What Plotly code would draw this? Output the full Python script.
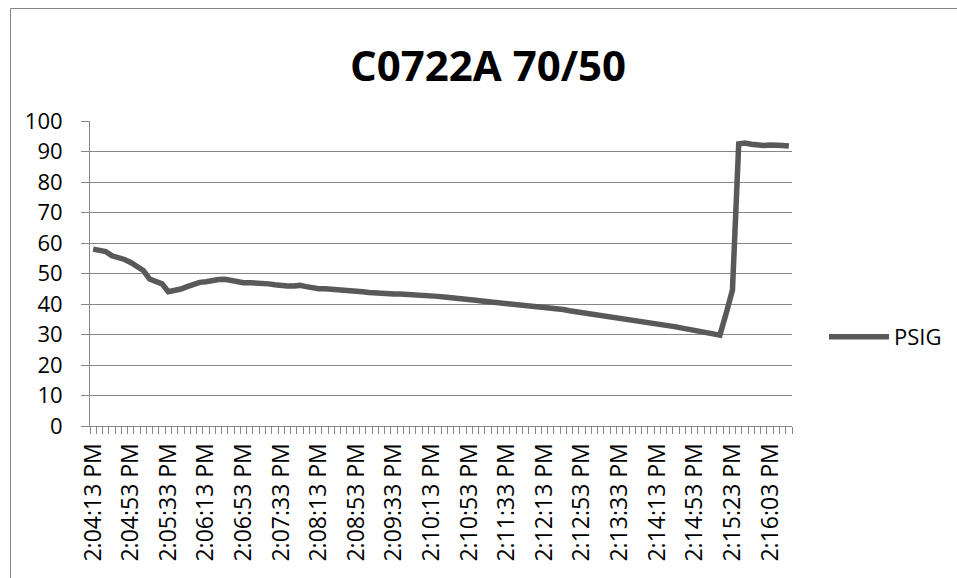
import plotly.graph_objects as go

title_text = "C0722A 70/50"
series_name = "PSIG"

# sample index (category position) and PSIG readings
psig = [
    58.0, 57.8, 57.2, 55.8, 55.3, 54.6, 53.6, 52.5, 51.0, 48.2,
    47.5, 46.6, 44.0, 44.4, 44.9, 45.7, 46.6, 47.1, 47.3, 47.8,
    48.0, 48.1, 47.7, 47.3, 47.0, 47.0, 47.0, 47.0, 46.6, 46.3,
    46.0, 45.9, 45.9, 46.1, 45.7, 45.3, 45.0, 45.0, 44.9, 44.8,
    44.6, 44.4, 44.2, 44.0, 43.8, 43.6, 43.5, 43.4, 43.3, 43.3,
    43.2, 43.2, 43.2, 43.0, 42.7, 42.5, 42.3, 42.0, 41.7, 41.6,
    41.5, 41.2, 41.0, 40.8, 40.6, 40.4, 40.2, 40.0, 39.9, 39.7,
    39.5, 39.2, 38.9, 38.8, 38.6, 38.2, 37.8, 37.5, 37.3, 37.0,
    36.7, 36.5, 36.2, 35.8, 35.4, 35.0, 34.8, 34.5, 34.2, 34.0,
    33.6, 33.2, 32.9, 32.5, 32.1, 31.7, 31.3, 31.0, 30.7, 30.4,
    29.8, 37.0, 44.6, 92.5, 92.8, 92.4, 92.1, 92.0, 92.1, 92.2,
    92.0, 91.8,
]
sample_index = list(range(len(psig)))

tick_labels = [
    "2:04:13 PM", "2:04:53 PM", "2:05:33 PM", "2:06:13 PM", "2:06:53 PM",
    "2:07:33 PM", "2:08:13 PM", "2:08:53 PM", "2:09:33 PM", "2:10:13 PM",
    "2:10:53 PM", "2:11:33 PM", "2:12:13 PM", "2:12:53 PM", "2:13:33 PM",
    "2:14:13 PM", "2:14:53 PM", "2:15:23 PM", "2:16:03 PM",
]
label_every = 6
tick_positions = [i * label_every for i in range(len(tick_labels))]

axis_gray = "#868686"
font_family = "Open Sans, Noto Sans, DejaVu Sans, sans-serif"

fig = go.Figure()
fig.add_trace(go.Scatter(
    x=sample_index, y=psig, mode="lines", name=series_name,
    line=dict(color="#595959", width=5.5),
))

L, R, T, B = 90, 165, 121, 152
W, H = 957, 578
pw, ph = W - L - R, H - T - B

def px_to_paper_x(px):
    return (px - L) / pw

def px_to_paper_y(py):
    return (H - B - py) / ph

fig.update_layout(
    width=W, height=H,
    margin=dict(l=L, r=R, t=T, b=B, autoexpand=False),
    paper_bgcolor="white", plot_bgcolor="white",
    font=dict(family=font_family, size=22, color="#000000"),
    title=dict(
        text="<b>" + title_text + "</b>",
        x=488 / W, xanchor="center", xref="container",
        y=1 - 66 / H, yanchor="middle", yref="container",
        font=dict(family=font_family, size=42, color="#000000"),
    ),
    showlegend=True,
    legend=dict(
        x=px_to_paper_x(824), xanchor="left",
        y=px_to_paper_y(337), yanchor="middle",
        font=dict(family=font_family, size=22, color="#000000"),
        itemwidth=60, bgcolor="rgba(0,0,0,0)",
    ),
    xaxis=dict(
        range=[-0.5, len(psig) - 0.5],
        tickmode="array", tickvals=tick_positions, ticktext=tick_labels,
        tickangle=-90, ticks="outside", ticklen=7,
        tickcolor="rgba(0,0,0,0)",
        showline=True, linecolor=axis_gray, linewidth=1,
        showgrid=False, zeroline=False,
        tickfont=dict(family=font_family, size=23, color="#000000"),
        minor=dict(tickmode="linear", tick0=-0.5, dtick=1, ticks="outside",
                   ticklen=7, tickcolor=axis_gray, tickwidth=1, showgrid=False),
    ),
    yaxis=dict(
        range=[0, 100], dtick=10, tick0=0,
        ticks="outside", ticklen=8, tickcolor=axis_gray, tickwidth=1,
        showline=True, linecolor=axis_gray, linewidth=1,
        showgrid=True, gridcolor=axis_gray, gridwidth=1,
        zeroline=False,
        ticklabelstandoff=14,
        tickfont=dict(family=font_family, size=22, color="#000000"),
    ),
    shapes=[dict(
        type="rect", xref="paper", yref="paper",
        x0=px_to_paper_x(10.5), x1=px_to_paper_x(W + 20),
        y0=px_to_paper_y(H + 20), y1=px_to_paper_y(8.5),
        line=dict(color=axis_gray, width=1), fillcolor="rgba(0,0,0,0)",
        layer="below",
    )],
)

fig.write_html(
    "out.html",
    config={"displayModeBar": False},
    post_script="document.body.style.margin='0px';document.body.style.overflow='hidden';",
)
